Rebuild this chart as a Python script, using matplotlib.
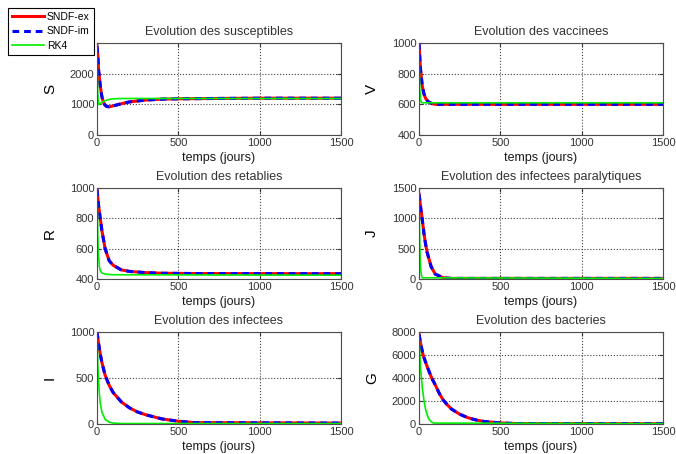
import matplotlib
matplotlib.use("Agg")
import matplotlib.pyplot as plt
import numpy as np

plt.rcParams['font.family'] = ['Liberation Sans', 'DejaVu Sans']

# ---- data ----
# S : susceptibles
tS_nd = [0, 5, 10, 20, 30, 40, 50, 60, 75, 100, 150, 200, 300, 400, 500, 700, 1000, 1500]
S_nd = [2900, 2600, 2100, 1600, 1250, 1050, 970, 930, 920, 950, 1020, 1080, 1140, 1170, 1180, 1190, 1200, 1200]
tS_rk = [0, 2, 5, 10, 15, 25, 50, 75, 100, 150, 300, 1500]
S_rk = [3000, 2000, 1300, 1000, 1000, 1050, 1120, 1160, 1180, 1190, 1190, 1190]

# V : vaccinees
tV_nd = [0, 5, 10, 20, 30, 40, 50, 60, 80, 100, 200, 1500]
V_nd = [1000, 900, 820, 720, 670, 640, 625, 615, 605, 600, 600, 600]
tV_rk = [0, 2, 5, 10, 15, 20, 50, 1500]
V_rk = [1000, 820, 700, 630, 612, 610, 610, 610]

# R : retablies
tR_nd = [0, 10, 20, 30, 50, 75, 100, 150, 200, 300, 400, 600, 1500]
R_nd = [990, 880, 800, 720, 600, 520, 490, 460, 450, 442, 438, 436, 435]
tR_rk = [0, 3, 6, 10, 15, 20, 30, 50, 100, 1500]
R_rk = [1000, 800, 640, 540, 480, 455, 440, 432, 428, 425]

# J : infectees paralytiques
tJ_nd = [0, 5, 10, 20, 30, 40, 50, 75, 100, 150, 200, 1500]
J_nd = [1400, 1300, 1180, 980, 760, 580, 440, 200, 80, 20, 10, 10]
tJ_rk = [0, 2, 4, 6, 8, 10, 15, 20, 1500]
J_rk = [1400, 1000, 700, 450, 280, 170, 60, 20, 10]

# I : infectees
tI_nd = [0, 10, 20, 30, 50, 75, 100, 150, 200, 250, 300, 400, 500, 600, 1500]
I_nd = [1000, 870, 760, 670, 530, 420, 340, 240, 175, 130, 100, 55, 30, 15, 10]
tI_rk = [0, 5, 10, 15, 20, 30, 50, 75, 100, 150, 1500]
I_rk = [1000, 650, 450, 320, 230, 130, 50, 20, 10, 5, 5]

# G : bacteries
tG_nd = [0, 10, 25, 50, 78, 100, 125, 148, 175, 200, 250, 300, 350, 400, 500, 600, 1500]
G_nd = [7800, 7000, 6000, 5000, 4000, 3400, 2650, 2100, 1650, 1300, 850, 550, 350, 220, 90, 40, 20]
tG_rk = [0, 5, 10, 20, 30, 40, 50, 60, 75, 90, 1500]
G_rk = [7800, 6000, 4800, 3200, 2100, 1300, 800, 450, 200, 80, 30]

titles = ["Evolution des susceptibles", "Evolution des vaccinees",
          "Evolution des retablies", "Evolution des infectees paralytiques",
          "Evolution des infectees", "Evolution des bacteries"]
ylabels = ["S", "V", "R", "J", "I", "G"]
ylims = [(0, 3000), (400, 1000), (400, 1000), (0, 1500), (0, 1000), (0, 8000)]
yticks = [[0, 1000, 2000, 3000], [400, 600, 800, 1000], [400, 600, 800, 1000],
          [0, 500, 1000, 1500], [0, 500, 1000], [0, 2000, 4000, 6000, 8000]]
xticks = [0, 500, 1000, 1500]
series = [(tS_nd, S_nd, tS_rk, S_rk), (tV_nd, V_nd, tV_rk, V_rk),
          (tR_nd, R_nd, tR_rk, R_rk), (tJ_nd, J_nd, tJ_rk, J_rk),
          (tI_nd, I_nd, tI_rk, I_rk), (tG_nd, G_nd, tG_rk, G_rk)]

W, H = 676, 454
fig = plt.figure(figsize=(W / 100, H / 100), dpi=100)

col_x = [97, 419]
col_w = 244
rows = [(43, 135), (188, 279), (332, 424)]

handles = None
for k in range(6):
    r, c = divmod(k, 2)
    top, bot = rows[r]
    ax = fig.add_axes([col_x[c] / W, 1 - bot / H, col_w / W, (bot - top) / H])
    t1, y1, t2, y2 = series[k]
    h1, = ax.plot(t1, y1, color='red', lw=2.2, ls='-', label='SNDF-ex')
    h2, = ax.plot(t1, y1, color='blue', lw=2.2, ls=(0, (2.2, 1.6)), label='SNDF-im')
    h3, = ax.plot(t2, y2, color='#00ee00', lw=1.2, ls='-', label='RK4')
    if handles is None:
        handles = [h1, h2, h3]
    ax.set_xlim(0, 1500)
    ax.set_ylim(*ylims[k])
    ax.set_xticks(xticks)
    ax.set_yticks(yticks[k])
    ax.grid(True, ls=':', color='0.25', lw=0.8)
    ax.tick_params(direction='in', length=3, labelsize=8, colors='0.2',
                   top=True, right=True, pad=2)
    for s in ax.spines.values():
        s.set_color('0.3')
        s.set_linewidth(0.8)
    ax.set_title(titles[k], fontsize=9, color='0.2', pad=6)
    ax.set_xlabel("temps (jours)", fontsize=9, color='0.1', labelpad=3)
    ax.set_ylabel(ylabels[k], fontsize=11, color='black')
    ax.yaxis.set_label_coords(-0.164, 0.5)

leg = fig.legend(handles=handles, labels=['SNDF-ex', 'SNDF-im', 'RK4'],
                 loc='upper left', bbox_to_anchor=(8 / W, 1 - 8 / H),
                 fontsize=7.5, handlelength=3.1, labelspacing=0.45,
                 borderpad=0.35, handletextpad=0.3, borderaxespad=0,
                 fancybox=False, framealpha=1, edgecolor='black')
leg.get_frame().set_linewidth(0.8)

fig.savefig("out.png", dpi=100)
